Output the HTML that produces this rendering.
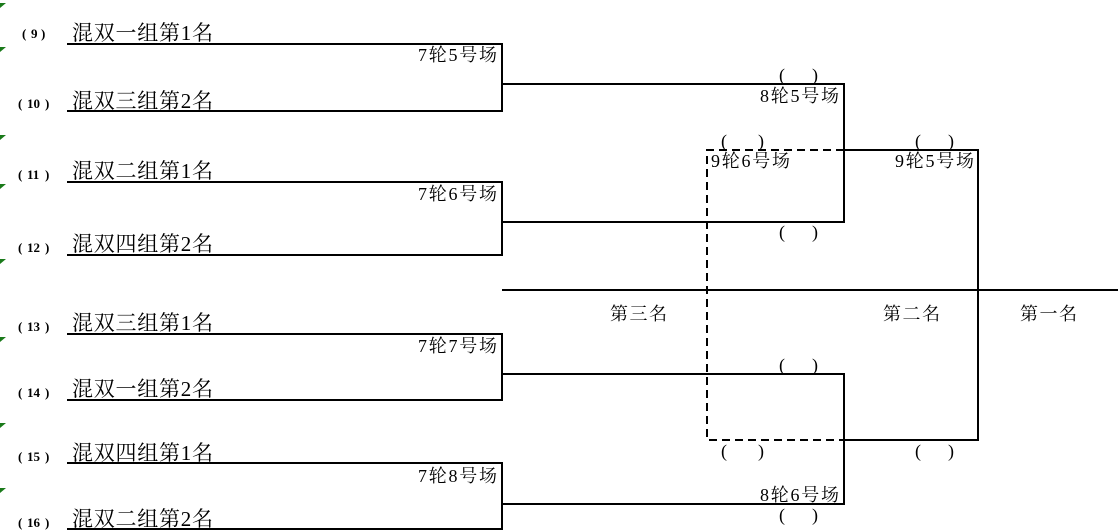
<!DOCTYPE html>
<html><head><meta charset="utf-8"><style>
html,body{margin:0;padding:0;background:#fff;}
svg{display:block}
text{font-family:"Liberation Serif","Noto Serif CJK SC",serif;fill:#000;}
.n{font-size:21px}
.s{font-size:13px;font-weight:bold}
.m{font-size:18px}
.p{font-size:18px}
</style></head><body>
<svg width="1118" height="531" viewBox="0 0 1118 531" xmlns="http://www.w3.org/2000/svg">
<g fill="#1a7a1a">
<polygon points="0,3 6,3 0,8"/><polygon points="0,47 6,47 0,52"/><polygon points="0,135 6,135 0,140"/>
<polygon points="0,184 6,184 0,189"/><polygon points="0,259 6,259 0,264"/><polygon points="0,337 6,337 0,342"/>
<polygon points="0,423 6,423 0,428"/><polygon points="0,488 6,488 0,493"/>
</g>
<g stroke="#000" stroke-width="2" fill="none">
<polyline points="67,44 502,44 502,111 67,111"/>
<polyline points="67,182 502,182 502,255 67,255"/>
<polyline points="67,334 502,334 502,400 67,400"/>
<polyline points="67,463 502,463 502,529 67,529"/>
<polyline points="502,84 844,84 844,222 502,222"/>
<polyline points="502,374 844,374 844,504 502,504"/>
<line x1="502" y1="290" x2="1118" y2="290"/>
<polyline points="844,150 978,150 978,440 844,440"/>
<polyline points="844,150 707,150 707,440 844,440" stroke-dasharray="8,5"/>
</g>
<g class="s">
<text x="22" y="38">(</text><text x="31" y="38">9</text><text x="41" y="38">)</text>
<text x="18" y="108">(</text><text x="27" y="108">10</text><text x="45" y="108">)</text>
<text x="18" y="179">(</text><text x="27" y="179">11</text><text x="45" y="179">)</text>
<text x="18" y="252">(</text><text x="27" y="252">12</text><text x="45" y="252">)</text>
<text x="18" y="331">(</text><text x="27" y="331">13</text><text x="45" y="331">)</text>
<text x="18" y="397">(</text><text x="27" y="397">14</text><text x="45" y="397">)</text>
<text x="18" y="461">(</text><text x="27" y="461">15</text><text x="45" y="461">)</text>
<text x="18" y="527">(</text><text x="27" y="527">16</text><text x="45" y="527">)</text>
</g>
<g class="n">
<text x="72" y="40" textLength="141">混双一组第1名</text><text x="72" y="108" textLength="141">混双三组第2名</text>
<text x="72" y="178" textLength="141">混双二组第1名</text><text x="72" y="251" textLength="141">混双四组第2名</text>
<text x="72" y="330" textLength="141">混双三组第1名</text><text x="72" y="396" textLength="141">混双一组第2名</text>
<text x="72" y="460" textLength="141">混双四组第1名</text><text x="72" y="526" textLength="141">混双二组第2名</text>
</g>
<g class="m">
<text x="418" y="61" textLength="79">7轮5号场</text><text x="418" y="200" textLength="79">7轮6号场</text>
<text x="418" y="352" textLength="79">7轮7号场</text><text x="418" y="482" textLength="79">7轮8号场</text>
<text x="760" y="102" textLength="79">8轮5号场</text><text x="760" y="501" textLength="79">8轮6号场</text>
<text x="895" y="167" textLength="79">9轮5号场</text>
<text x="711" y="167" textLength="79">9轮6号场</text>
<text x="610" y="320" textLength="57">第三名</text><text x="883" y="320" textLength="57">第二名</text><text x="1020" y="320" textLength="57">第一名</text>
</g>
<g class="p">
<text x="779" y="81">(</text><text x="812" y="81">)</text>
<text x="721" y="147">(</text><text x="758" y="147">)</text>
<text x="915" y="147">(</text><text x="948" y="147">)</text>
<text x="779" y="238">(</text><text x="812" y="238">)</text>
<text x="779" y="371">(</text><text x="812" y="371">)</text>
<text x="721" y="457">(</text><text x="758" y="457">)</text>
<text x="915" y="457">(</text><text x="948" y="457">)</text>
<text x="779" y="521">(</text><text x="812" y="521">)</text>
</g>
</svg>
</body></html>
